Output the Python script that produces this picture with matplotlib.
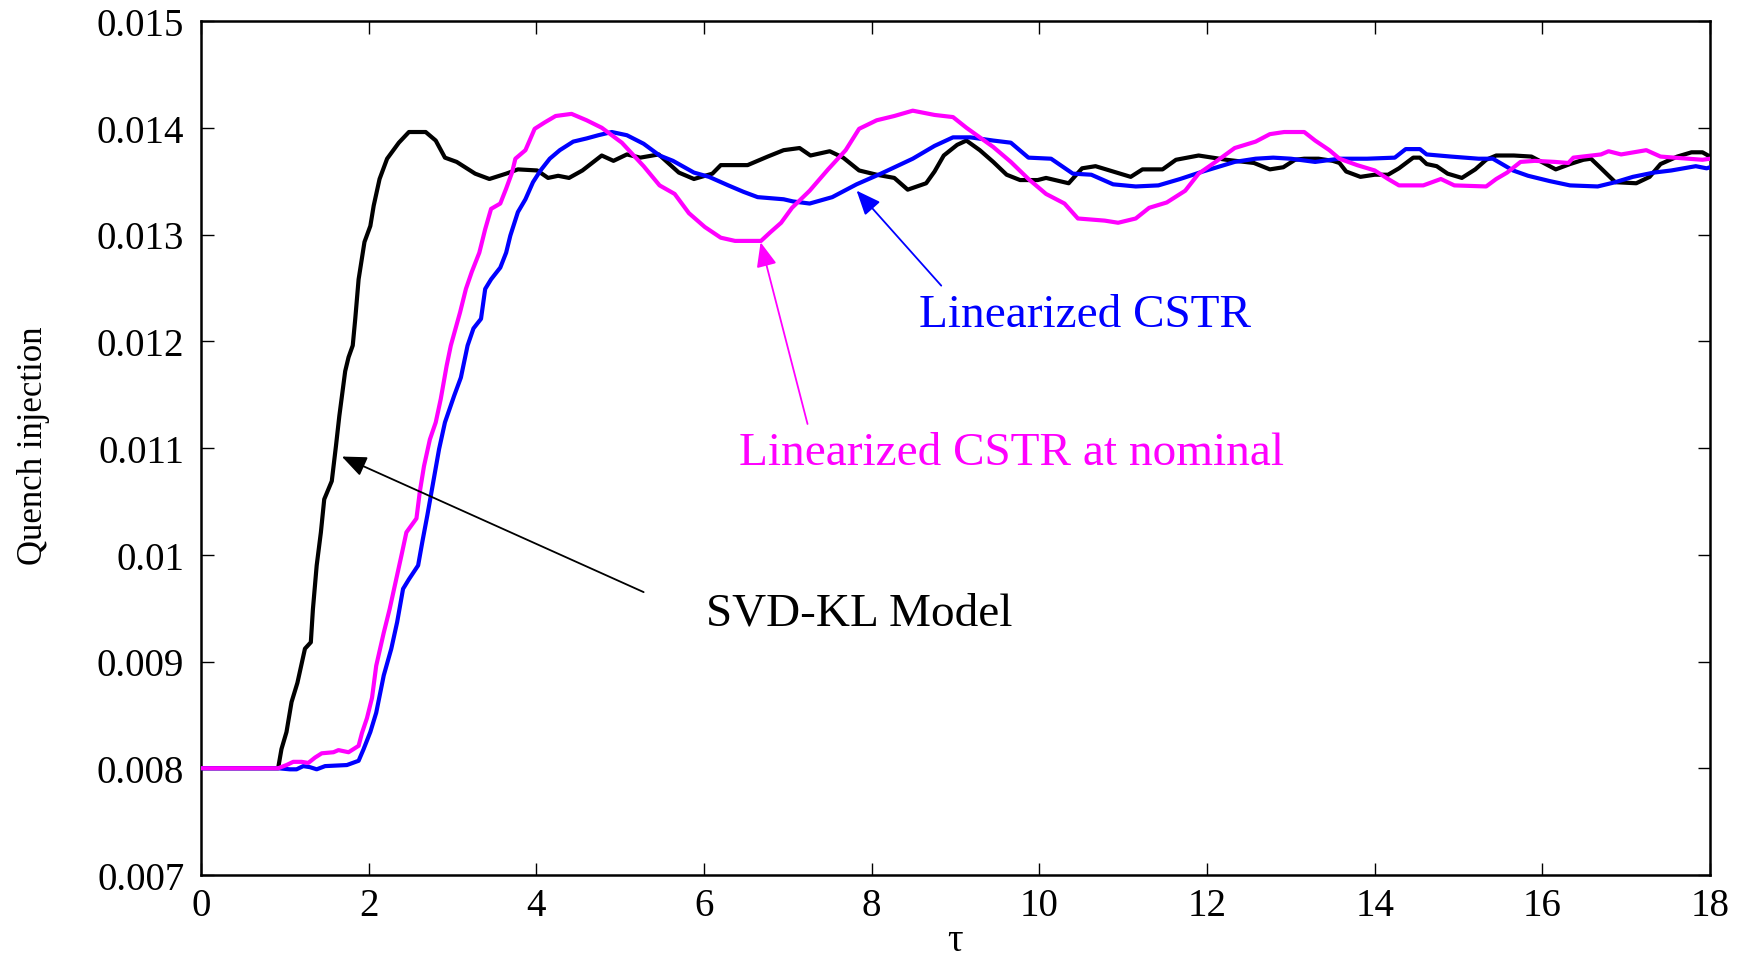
import matplotlib
matplotlib.use("Agg")
import matplotlib.pyplot as plt
import numpy as np

# ---------------- data ----------------
tau_svd = [0, 0.92, 0.96, 1.02, 1.08, 1.15, 1.24, 1.31, 1.335, 1.38, 1.43, 1.47, 1.56, 1.61, 1.65,
           1.72, 1.76, 1.81, 1.84, 1.88, 1.95, 2.02, 2.06, 2.13, 2.22, 2.36, 2.48, 2.68, 2.80, 2.91,
           3.05, 3.27, 3.44, 3.64, 3.78, 4.01, 4.14, 4.26, 4.39, 4.55, 4.78, 4.92, 5.08, 5.24, 5.46,
           5.70, 5.88, 6.10, 6.20, 6.52, 6.76, 6.95, 7.14, 7.27, 7.50, 7.66, 7.85, 8.06, 8.27, 8.43,
           8.65, 8.75, 8.86, 9.02, 9.13, 9.29, 9.45, 9.61, 9.77, 9.98, 10.08, 10.35, 10.51, 10.67,
           10.88, 11.09, 11.23, 11.47, 11.63, 11.90, 12.23, 12.56, 12.75, 12.91, 13.05, 13.16, 13.33,
           13.50, 13.58, 13.66, 13.83, 14.0, 14.16, 14.29, 14.46, 14.54, 14.62, 14.74, 14.87, 15.04,
           15.20, 15.33, 15.45, 15.66, 15.87, 16.04, 16.16, 16.33, 16.49, 16.58, 16.70, 16.87, 17.12,
           17.28, 17.41, 17.61, 17.78, 17.91, 18.0]
q_svd = [0.008, 0.008, 0.00818, 0.00834, 0.00862, 0.00880, 0.00912, 0.00918, 0.00949, 0.00990,
         0.01021, 0.01052, 0.01069, 0.01102, 0.01130, 0.01172, 0.01185, 0.01196, 0.01221, 0.01258,
         0.01293, 0.01308, 0.01327, 0.01352, 0.01371, 0.01386, 0.01396, 0.01396, 0.01388, 0.01372,
         0.01368, 0.01357, 0.01352, 0.01357, 0.01361, 0.01360, 0.01353, 0.01355, 0.01353, 0.01360,
         0.01374, 0.01369, 0.01375, 0.01372, 0.01375, 0.01358, 0.01352, 0.01357, 0.01365, 0.01365,
         0.01373, 0.01379, 0.01381, 0.01374, 0.01378, 0.01372, 0.01360, 0.01356, 0.01353, 0.01342,
         0.01348, 0.01359, 0.01374, 0.01384, 0.01388, 0.01379, 0.01368, 0.01356, 0.01351, 0.01351,
         0.01353, 0.01348, 0.01362, 0.01364, 0.01359, 0.01354, 0.01361, 0.01361, 0.01370, 0.01374,
         0.01370, 0.01367, 0.01361, 0.01363, 0.01370, 0.01371, 0.01371, 0.01369, 0.01367, 0.01359,
         0.01354, 0.01356, 0.01356, 0.01362, 0.01372, 0.01372, 0.01366, 0.01364, 0.01357, 0.01353,
         0.01361, 0.01370, 0.01374, 0.01374, 0.01373, 0.01366, 0.01361, 0.01366, 0.01370, 0.01371,
         0.01362, 0.01349, 0.01348, 0.01354, 0.01366, 0.01373, 0.01377, 0.01377, 0.01373]

tau_lin = [0, 0.92, 1.06, 1.14, 1.22, 1.30, 1.38, 1.48, 1.74, 1.88, 1.94, 2.02, 2.09, 2.18, 2.27,
           2.34, 2.41, 2.48, 2.59, 2.64, 2.70, 2.77, 2.84, 2.91, 3.02, 3.10, 3.18, 3.25, 3.34, 3.39,
           3.46, 3.57, 3.64, 3.69, 3.78, 3.87, 3.96, 4.05, 4.16, 4.28, 4.44, 4.60, 4.74, 4.90, 5.08,
           5.28, 5.47, 5.63, 5.88, 6.06, 6.29, 6.47, 6.64, 6.95, 7.06, 7.26, 7.53, 7.82, 8.11, 8.49,
           8.75, 8.97, 9.18, 9.45, 9.66, 9.87, 10.14, 10.40, 10.62, 10.88, 11.15, 11.42, 11.68, 11.95,
           12.12, 12.33, 12.58, 12.79, 13.0, 13.29, 13.58, 13.91, 14.24, 14.37, 14.54, 14.62, 14.91,
           15.24, 15.41, 15.65, 15.83, 16.09, 16.33, 16.66, 16.87, 17.08, 17.33, 17.54, 17.83, 17.96,
           18.0]
q_lin = [0.008, 0.008, 0.00799, 0.00799, 0.00802, 0.00801, 0.00799, 0.00802, 0.00803, 0.00807,
         0.00818, 0.00834, 0.00852, 0.00887, 0.00912, 0.00937, 0.00968, 0.00977, 0.00990, 0.01012,
         0.01037, 0.01068, 0.01099, 0.01124, 0.01149, 0.01166, 0.01196, 0.01212, 0.01221, 0.01249,
         0.01258, 0.01269, 0.01283, 0.01299, 0.01321, 0.01333, 0.01349, 0.01360, 0.01371, 0.01379,
         0.01387, 0.01390, 0.01393, 0.01396, 0.01393, 0.01385, 0.01374, 0.01369, 0.01358, 0.01354,
         0.01346, 0.01340, 0.01335, 0.01333, 0.01331, 0.01329, 0.01335, 0.01347, 0.01357, 0.01371,
         0.01383, 0.01391, 0.01391, 0.01388, 0.01386, 0.01372, 0.01371, 0.01357, 0.01356, 0.01347,
         0.01345, 0.01346, 0.01352, 0.01359, 0.01363, 0.01368, 0.01371, 0.01372, 0.01371, 0.01368,
         0.01371, 0.01371, 0.01372, 0.01380, 0.01380, 0.01375, 0.01373, 0.01371, 0.01371, 0.01360,
         0.01355, 0.01350, 0.01346, 0.01345, 0.01349, 0.01354, 0.01358, 0.01360, 0.01364, 0.01362,
         0.01363]

tau_nom = [0, 0.92, 1.02, 1.10, 1.20, 1.28, 1.36, 1.44, 1.58, 1.64, 1.70, 1.76, 1.82, 1.88, 1.92,
           1.98, 2.04, 2.09, 2.18, 2.25, 2.32, 2.39, 2.45, 2.57, 2.61, 2.66, 2.73, 2.80, 2.86, 2.93,
           2.98, 3.09, 3.16, 3.23, 3.32, 3.39, 3.46, 3.57, 3.64, 3.71, 3.75, 3.87, 3.98, 4.10, 4.23,
           4.42, 4.60, 4.78, 5.02, 5.28, 5.47, 5.65, 5.82, 6.01, 6.20, 6.37, 6.68, 6.79, 6.92, 7.05,
           7.26, 7.48, 7.69, 7.85, 8.06, 8.27, 8.49, 8.75, 8.97, 9.13, 9.29, 9.45, 9.66, 9.87, 10.08,
           10.30, 10.46, 10.78, 10.94, 11.15, 11.31, 11.52, 11.74, 11.90, 12.12, 12.33, 12.58, 12.75,
           12.92, 13.16, 13.29, 13.46, 13.58, 13.79, 14.0, 14.16, 14.29, 14.58, 14.79, 14.95, 15.33,
           15.45, 15.58, 15.74, 15.91, 16.15, 16.31, 16.37, 16.70, 16.79, 16.94, 17.24, 17.41, 17.74,
           17.91, 18.0]
q_nom = [0.008, 0.008, 0.00803, 0.00806, 0.00806, 0.00805, 0.00810, 0.00814, 0.00815, 0.00817,
         0.00816, 0.00815, 0.00818, 0.00821, 0.00833, 0.00847, 0.00866, 0.00896, 0.00927, 0.00949,
         0.00974, 0.00999, 0.01021, 0.01034, 0.01059, 0.01083, 0.01108, 0.01124, 0.01146, 0.01177,
         0.01196, 0.01227, 0.01249, 0.01265, 0.01283, 0.01305, 0.01324, 0.01329, 0.01343, 0.01358,
         0.01371, 0.01379, 0.01399, 0.01405, 0.01411, 0.01413, 0.01407, 0.01400, 0.01386, 0.01364,
         0.01346, 0.01338, 0.01320, 0.01307, 0.01297, 0.01294, 0.01294, 0.01302, 0.01311, 0.01325,
         0.01341, 0.01361, 0.01379, 0.01399, 0.01407, 0.01411, 0.01416, 0.01412, 0.01410, 0.01400,
         0.01391, 0.01382, 0.01368, 0.01352, 0.01338, 0.01329, 0.01315, 0.01313, 0.01311, 0.01315,
         0.01325, 0.01330, 0.01341, 0.01357, 0.01369, 0.01381, 0.01387, 0.01394, 0.01396, 0.01396,
         0.01388, 0.01379, 0.01371, 0.01365, 0.01360, 0.01352, 0.01346, 0.01346, 0.01352, 0.01346,
         0.01345, 0.01352, 0.01358, 0.01368, 0.01369, 0.01368, 0.01367, 0.01372, 0.01375, 0.01378,
         0.01375, 0.01379, 0.01373, 0.01371, 0.01370, 0.01371]

x_ticks = [0, 2, 4, 6, 8, 10, 12, 14, 16, 18]
y_ticks = [0.007, 0.008, 0.009, 0.010, 0.011, 0.012, 0.013, 0.014, 0.015]
y_tick_labels = ["0.007", "0.008", "0.009", "0.01", "0.011", "0.012", "0.013", "0.014", "0.015"]

label_svd = "SVD-KL Model"
label_lin = "Linearized CSTR"
label_nom = "Linearized CSTR at nominal"

# ---------------- figure ----------------
serif = ["Liberation Serif", "DejaVu Serif"]
plt.rcParams["font.family"] = serif

fig = plt.figure(figsize=(17.47, 9.62), dpi=100)
ax = fig.add_axes([201 / 1747, 1 - 876 / 962, 1509 / 1747, 854 / 962])

ax.plot(tau_svd, q_svd, color="#000000", lw=3.0, zorder=3)
ax.plot(tau_lin, q_lin, color="#0000ff", lw=3.0, zorder=4)
ax.plot(tau_nom, q_nom, color="#ff00ff", lw=3.0, zorder=5)

ax.set_xlim(0, 18)
ax.set_ylim(0.007, 0.015)
ax.set_xticks(x_ticks)
ax.set_xticklabels([str(t) for t in x_ticks])
ax.set_yticks(y_ticks)
ax.set_yticklabels(y_tick_labels)

ax.tick_params(direction="in", top=True, right=True, length=9, width=1.0,
               labelsize=28, colors="black")
ax.tick_params(axis="x", pad=9)
ax.tick_params(axis="y", pad=12)
for sp in ax.spines.values():
    sp.set_linewidth(1.8)

ax.set_ylabel("Quench injection", fontsize=25, va="center")
ax.yaxis.set_label_coords(-0.111, 0.5035)
ax.set_xlabel("τ", fontsize=28, va="bottom")
ax.xaxis.set_label_coords(0.5, -0.0985)

# annotations
ax.text(10.54, 0.012143, label_lin, color="#0000ff", fontsize=34,
        ha="center", va="baseline")
ax.text(9.67, 0.010850, label_nom, color="#ff00ff", fontsize=34,
        ha="center", va="baseline")
ax.text(7.85, 0.009351, label_svd, color="#000000", fontsize=34,
        ha="center", va="baseline")

arrow_style = "-|>,head_length=0.6,head_width=0.25"
ax.annotate("", xy=(1.68, 0.01092), xytext=(5.28, 0.00965),
            arrowprops=dict(arrowstyle=arrow_style, color="black", lw=1.3,
                            mutation_scale=25, shrinkA=0, shrinkB=0), zorder=6)
ax.annotate("", xy=(7.82, 0.013411), xytext=(8.83, 0.012521),
            arrowprops=dict(arrowstyle=arrow_style, color="#0000ff", lw=1.3,
                            mutation_scale=25, shrinkA=0, shrinkB=0), zorder=6)
ax.annotate("", xy=(6.675, 0.012927), xytext=(7.235, 0.011225),
            arrowprops=dict(arrowstyle=arrow_style, color="#ff00ff", lw=1.3,
                            mutation_scale=25, shrinkA=0, shrinkB=0), zorder=6)

fig.savefig("out.png", dpi=100, facecolor="white")
